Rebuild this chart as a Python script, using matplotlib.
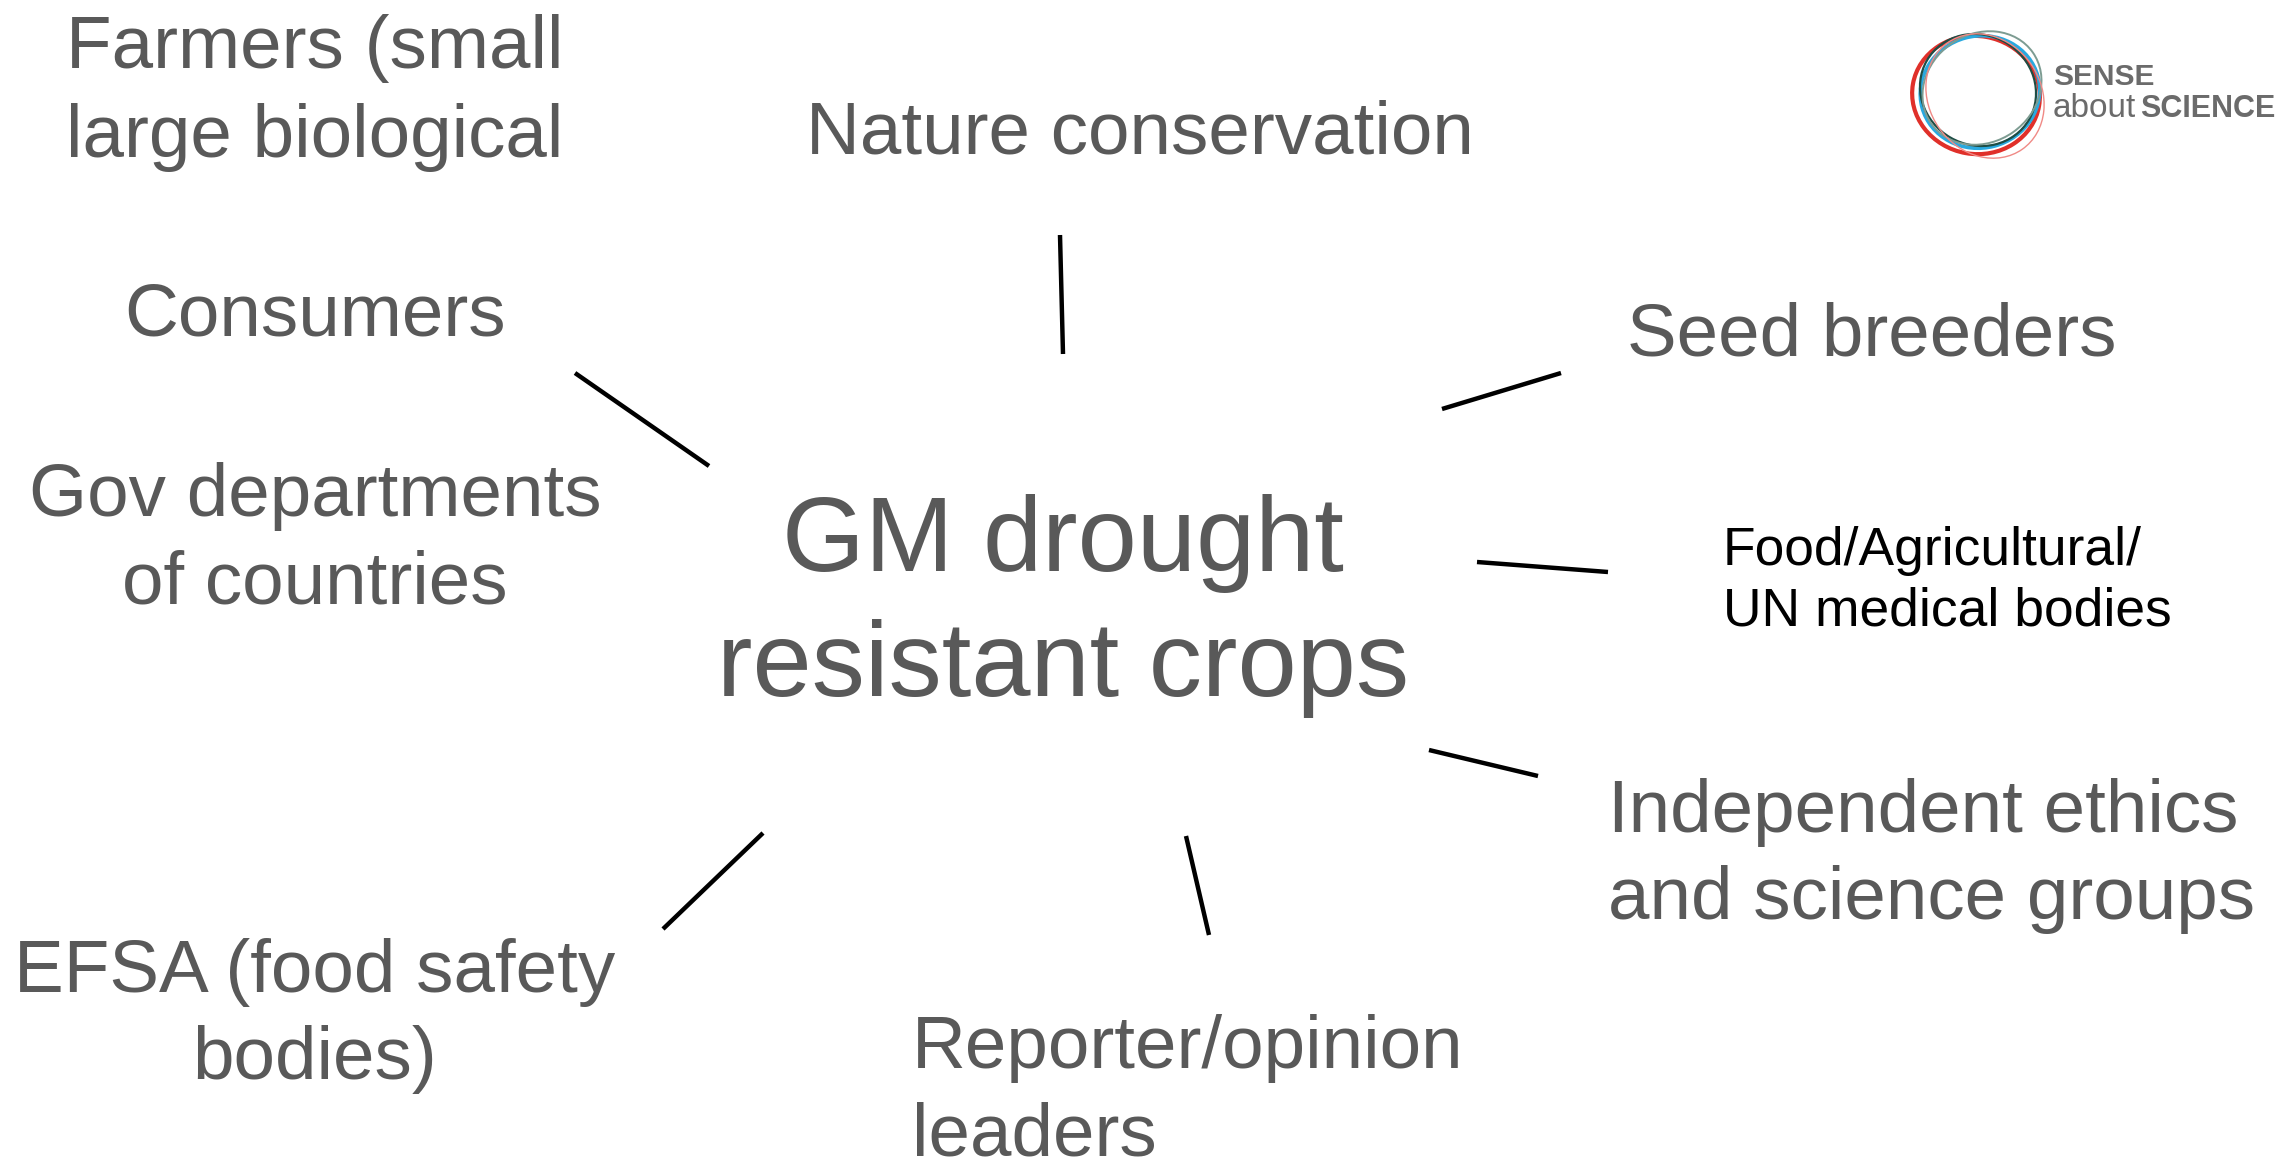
import matplotlib
matplotlib.use('Agg')
import matplotlib.pyplot as plt
from matplotlib.patches import Ellipse

# figure is laid out in pixel coordinates (2284 x 1163)
W, H = 2284, 1163
grey = '#595959'
plt.rcParams['font.family'] = ['Liberation Sans', 'DejaVu Sans']

# stakeholder labels: lines, anchor x, baselines, alignment
labels = [
    (['Farmers (small', 'large biological'], 315, [68, 157], 'center'),
    (['Nature conservation'], 1140, [153], 'center'),
    (['Consumers'], 315, [335], 'center'),
    (['Seed breeders'], 1872, [355], 'center'),
    (['Gov departments', 'of countries'], 315, [516, 603], 'center'),
    (['Independent ethics', 'and science groups'], 1608, [832, 919], 'left'),
    (['EFSA (food safety', 'bodies)'], 315, [992, 1079], 'center'),
    (['Reporter/opinion', 'leaders'], 912, [1068, 1155], 'left'),
]
small_label = (['Food/Agricultural/', 'UN medical bodies'], 1723, [565, 625])
centre_label = (['GM drought', 'resistant crops'], 1063, [571, 696])

# connector segments (x0, y0, x1, y1)
spokes = [
    (1060, 235, 1063, 354),
    (575, 373, 709, 466),
    (1442, 409, 1561, 373),
    (1477, 562, 1608, 572),
    (1429, 750, 1538, 776),
    (1186, 836, 1209, 935),
    (763, 833, 663, 929),
]

fig = plt.figure(figsize=(W / 100, H / 100), dpi=100)
ax = fig.add_axes([0, 0, 1, 1])
ax.set_xlim(0, W)
ax.set_ylim(H, 0)
ax.axis('off')

for lines, x, ys, ha in labels:
    for s, y in zip(lines, ys):
        ax.text(x, y, s, fontsize=53.7, color=grey, ha=ha, va='baseline')

for s, y in zip(small_label[0], small_label[2]):
    ax.text(small_label[1], y, s, fontsize=38.4, color='black', ha='left', va='baseline')

for s, y in zip(centre_label[0], centre_label[2]):
    ax.text(centre_label[1], y, s, fontsize=76.6, color=grey, ha='center', va='baseline')

for x0, y0, x1, y1 in spokes:
    ax.plot([x0, x1], [y0, y1], color='black', lw=3.2, solid_capstyle='butt')

# logo
rings = [
    ((1976, 95), 128, 118, 10, '#e0302a', 3.0),
    ((1980, 92), 120, 112, -15, '#2aa9df', 2.6),
    ((1978, 90), 118, 110, 30, '#1e4d45', 1.6),
    ((1982, 88), 124, 108, -35, '#7d9c92', 1.4),
    ((1985, 96), 130, 112, 55, '#f08a86', 1.0),
]
for c, w, h, ang, col, lw in rings:
    ax.add_patch(Ellipse(c, w, h, angle=ang, fill=False, ec=col, lw=lw))
ax.text(2053, 85, 'SENSE', fontsize=21.5, color='#6b6b6b', fontweight='bold', va='baseline')
ax.text(2053, 117, 'about', fontsize=24, color='#6b6b6b', va='baseline')
ax.text(2275, 117, 'SCIENCE', fontsize=22, color='#6b6b6b', fontweight='bold',
        ha='right', va='baseline')

fig.savefig('out.png', dpi=100)
